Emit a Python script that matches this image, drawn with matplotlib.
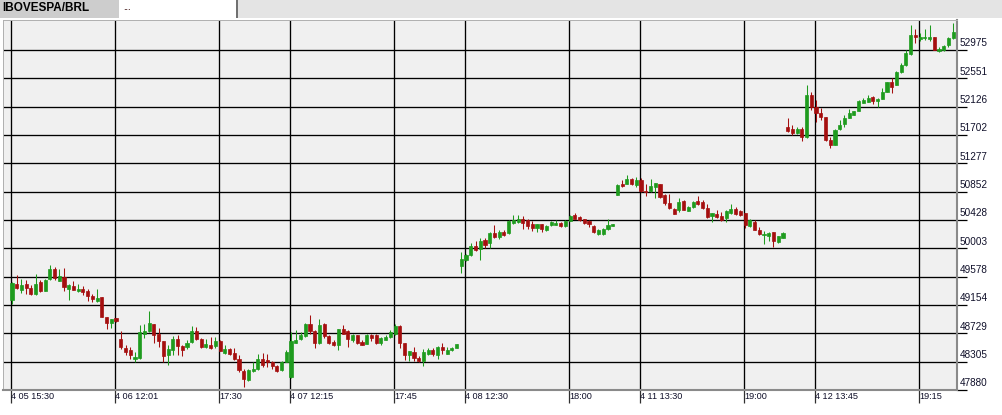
import matplotlib
matplotlib.use("Agg")
import matplotlib.pyplot as plt
import matplotlib.transforms as mtransforms
from matplotlib.patches import Rectangle

plt.rcParams['font.family'] = ['Liberation Sans', 'DejaVu Sans']

# OHLC per bar (bar index = slot on the time axis)
opens = [
    49224, 49464, 49384, 49464, 49408, 49314, 49498, 49364, 49539, 49689,
    49514, 49574, 49389, 49434, 49364, 49399, 49359, 49289, 49214, 49269,
    48974, 48884, 48958, 48650, 48509, 48474, 48339, 48364, 48724, 48759,
    48874, 48724, 48609, 48399, 48484, 48639, 48538, 48524, 48598, 48759,
    48639, 48524, 48560, 48538, 48609, 48440, 48500, 48440, 48339, 48159,
    48024, 48159, 48200, 48349, 48334, 48299, 48238, 48174, 48299, 48074,
    48584, 48639, 48684, 48874, 48759, 48590, 48864, 48684, 48598, 48560,
    48789, 48759, 48624, 48709, 48598, 48574, 48709, 48699, 48584, 48634,
    48674, 48724, 48838, 48584, 48399, 48449, 48364, 48309, 48424, 48484,
    48399, 48524, 48424, 48474, 48509, 49739, 49824, 49899, 50034, 49999,
    50134, 50084, 50234, 50174, 50248, 50234, 50390, 50398, 50439, 50424,
    50374, 50314, 50364, 50284, 50349, 50360, 50390, 50338, 50414, 50499,
    50474, 50439, 50409, 50334, 50224, 50214, 50289, 50344, 50799, 50964,
    50964, 51039, 50949, 51024, 50864, 50859, 50924, 50974, 50799, 50684,
    50600, 50574, 50709, 50564, 50624, 50709, 50698, 50608, 50488, 50524,
    50488, 50464, 50540, 50600, 50564, 50534, 50334, 50398, 50284, 50199,
    50188, 50248, 50098, 50164, 51824, 51794, 51734, 51789, 51674, 52299,
    52124, 52034, 51964, 51634, 51549, 51784, 51864, 51958, 51999, 52064,
    52184, 52198, 52264, 52214, 52239, 52348, 52498, 52449, 52648, 52749,
    52910, 53199, 53139, 53149, 53134, 53174, 52959, 52974, 53049, 53149,
]
highs = [
    49498, 49599, 49539, 49524, 49449, 49614, 49524, 49549, 49749, 49724,
    49699, 49714, 49474, 49509, 49474, 49438, 49399, 49324, 49389, 49274,
    48974, 48949, 48958, 48759, 48560, 48524, 48449, 48860, 48874, 49059,
    48874, 48808, 48609, 48549, 48684, 48699, 48560, 48624, 48834, 48824,
    48664, 48639, 48674, 48674, 48624, 48560, 48509, 48509, 48399, 48200,
    48200, 48299, 48424, 48434, 48424, 48309, 48260, 48314, 48474, 48749,
    48784, 48749, 48884, 48999, 48774, 48950, 48884, 48699, 48634, 48799,
    48849, 48774, 48724, 48709, 48634, 48724, 48724, 48724, 48674, 48699,
    48774, 48874, 48849, 48584, 48464, 48524, 48384, 48500, 48514, 48514,
    48534, 48584, 48524, 48524, 48564, 49949, 49924, 50084, 50109, 50158,
    50158, 50248, 50360, 50284, 50284, 50424, 50499, 50499, 50488, 50439,
    50409, 50374, 50374, 50349, 50414, 50424, 50398, 50424, 50499, 50540,
    50488, 50450, 50424, 50349, 50300, 50308, 50439, 50364, 50964, 51024,
    51099, 51050, 51074, 51050, 50974, 51039, 50984, 50974, 50824, 50824,
    50608, 50750, 50724, 50634, 50709, 50784, 50724, 50664, 50534, 50584,
    50548, 50584, 50674, 50624, 50574, 50534, 50450, 50424, 50324, 50259,
    50248, 50248, 50188, 50248, 51950, 51849, 51824, 51824, 52449, 52350,
    52224, 52100, 51964, 51674, 51784, 51924, 51999, 52084, 52059, 52224,
    52258, 52299, 52284, 52250, 52400, 52498, 52550, 52664, 52774, 52974,
    53349, 53284, 53224, 53289, 53349, 53174, 53024, 53049, 53174, 53374,
]
lows = [
    49174, 49399, 49339, 49314, 49299, 49309, 49348, 49359, 49524, 49524,
    49509, 49359, 49224, 49374, 49348, 49309, 49214, 49198, 49198, 48969,
    48789, 48809, 48898, 48500, 48399, 48339, 48299, 48349, 48659, 48749,
    48590, 48524, 48299, 48260, 48409, 48409, 48388, 48500, 48584, 48624,
    48509, 48509, 48489, 48509, 48459, 48424, 48409, 48324, 48148, 47924,
    48014, 48148, 48174, 48224, 48224, 48189, 48148, 48164, 48299, 48064,
    48584, 48624, 48674, 48724, 48509, 48574, 48664, 48574, 48538, 48474,
    48714, 48524, 48598, 48574, 48549, 48564, 48614, 48574, 48560, 48624,
    48664, 48709, 48514, 48334, 48314, 48314, 48299, 48238, 48399, 48384,
    48349, 48424, 48414, 48464, 48509, 49634, 49814, 49888, 49964, 49834,
    50014, 50008, 50164, 50139, 50184, 50224, 50374, 50390, 50300, 50289,
    50264, 50248, 50248, 50264, 50334, 50349, 50324, 50324, 50414, 50439,
    50414, 50374, 50324, 50240, 50210, 50210, 50284, 50344, 50799, 50924,
    50960, 50949, 50924, 50848, 50788, 50848, 50758, 50764, 50649, 50600,
    50514, 50548, 50574, 50564, 50614, 50649, 50600, 50464, 50398, 50464,
    50414, 50398, 50524, 50510, 50488, 50314, 50324, 50274, 50199, 50074,
    50109, 50024, 50084, 50158, 51748, 51699, 51724, 51614, 51664, 52074,
    51898, 51924, 51614, 51508, 51549, 51774, 51814, 51950, 51999, 52059,
    52174, 52190, 52164, 52124, 52234, 52344, 52334, 52449, 52624, 52738,
    52899, 53084, 53114, 53124, 53109, 52974, 52940, 52964, 53024, 53139,
]
closes = [
    49483, 49414, 49459, 49408, 49324, 49474, 49359, 49534, 49689, 49558,
    49584, 49424, 49449, 49384, 49399, 49348, 49289, 49239, 49258, 48974,
    48884, 48939, 48909, 48524, 48449, 48399, 48374, 48749, 48764, 48884,
    48709, 48614, 48388, 48500, 48639, 48538, 48484, 48590, 48759, 48650,
    48524, 48574, 48509, 48609, 48470, 48489, 48424, 48339, 48174, 48039,
    48174, 48200, 48349, 48260, 48299, 48238, 48159, 48299, 48449, 48609,
    48624, 48699, 48864, 48759, 48590, 48849, 48684, 48590, 48549, 48789,
    48724, 48650, 48709, 48584, 48560, 48709, 48659, 48584, 48659, 48674,
    48749, 48838, 48584, 48399, 48464, 48364, 48309, 48449, 48484, 48414,
    48524, 48484, 48484, 48509, 48564, 49850, 49899, 50034, 49984, 50109,
    50049, 50234, 50174, 50248, 50199, 50414, 50424, 50439, 50390, 50338,
    50314, 50364, 50300, 50338, 50398, 50390, 50338, 50414, 50484, 50450,
    50424, 50384, 50364, 50248, 50274, 50300, 50360, 50364, 50949, 50934,
    51039, 50964, 51024, 50859, 50848, 50938, 50984, 50774, 50684, 50608,
    50524, 50698, 50584, 50624, 50698, 50664, 50614, 50474, 50534, 50474,
    50424, 50564, 50600, 50524, 50499, 50349, 50424, 50284, 50214, 50224,
    50234, 50109, 50184, 50240, 51759, 51734, 51794, 51674, 52299, 52114,
    52024, 51964, 51634, 51549, 51774, 51849, 51958, 52024, 52059, 52209,
    52224, 52258, 52209, 52239, 52348, 52498, 52424, 52648, 52749, 52924,
    53199, 53164, 53164, 53174, 53164, 52974, 52989, 53034, 53149, 53249,
]

time_pos = [0, 22, 44, 59, 81, 96, 118, 133, 155, 170, 192]
time_labels = ["4 05 15:30", "4 06 12:01", "17:30", "4 07 12:15", "17:45",
               "4 08 12:30", "18:00", "4 11 13:30", "19:00", "4 12 13:45", "19:15"]
price_ticks = [52975, 52551, 52126, 51702, 51277, 50852, 50428,
               50003, 49578, 49154, 48729, 48305, 47880]

UP = '#1e9b1e'
DOWN = '#a50f0f'
W, H = 1003, 415

fig = plt.figure(figsize=(W / 100, H / 100), dpi=100)
fig.patch.set_facecolor('white')

# tab strip on top
def px_rect(x0, y0, w, h, color):
    fig.patches.append(Rectangle((x0 / W, 1 - (y0 + h) / H), w / W, h / H,
                                 transform=fig.transFigure, facecolor=color,
                                 edgecolor='none', zorder=0))

px_rect(0, 0, W, 18, '#e4e4e4')
px_rect(0, 0, 119, 18, '#cdcdcd')
px_rect(119, 0, 118, 18, 'white')
px_rect(236, 0, 2.5, 18, '#707070')
fig.text(2 / W, 1 - 8 / H, "IBOVESPA/BRL", fontsize=8.5, fontweight='bold',
         va='center', ha='left', color='black')
fig.text(123 / W, 1 - 8 / H, "...", fontsize=6.5, va='center', ha='left',
         color='#300000')

ax = fig.add_axes([3 / W, 25 / H, 954 / W, 370 / H])
ax.set_facecolor('#f0f0f0')
ax.set_xlim(-1.9, 199.8)
ax.set_ylim(47880, 53425)

# grid
for p in price_ticks:
    ax.axhline(p, color='black', lw=0.95, zorder=1)
for t in time_pos:
    ax.axvline(t - 0.3, color='black', lw=0.95, zorder=1)

# candles
idx = range(len(opens))
colors = [UP if c >= o else DOWN for o, c in zip(opens, closes)]
ax.vlines(list(idx), lows, highs, colors=colors, lw=0.75, zorder=2)
ax.bar(list(idx), [c - o for o, c in zip(opens, closes)], bottom=opens,
       width=0.66, color=colors, edgecolor=colors, lw=0.5, zorder=3)

# axes frame
for side in ['top', 'left']:
    ax.spines[side].set_color('#b0b0b0')
    ax.spines[side].set_linewidth(0.7)
for side in ['right', 'bottom']:
    ax.spines[side].set_color('#8a8a8a')
    ax.spines[side].set_linewidth(1.5)

ax.yaxis.tick_right()
ax.set_yticks(price_ticks)
ax.set_yticklabels([])
ax.tick_params(axis='y', length=7.5, width=0.9, color='black', direction='out')
ax.set_xticks([t - 0.3 for t in time_pos])
ax.set_xticklabels([])
ax.tick_params(axis='x', length=9.5, width=0.9, color='#303030', direction='out')

ytrans = mtransforms.offset_copy(
    mtransforms.blended_transform_factory(ax.transAxes, ax.transData),
    fig=fig, x=2.5, y=3.7, units='dots')
for p in price_ticks:
    ax.text(1.0, p, str(p), transform=ytrans, fontsize=7.2, ha='left',
            va='baseline', color='#10102a', clip_on=False)

xtrans = mtransforms.offset_copy(
    mtransforms.blended_transform_factory(ax.transData, ax.transAxes),
    fig=fig, x=0.5, y=-6.5, units='dots')
for t, lab in zip(time_pos, time_labels):
    ax.text(t - 0.3, 0, lab, transform=xtrans, fontsize=6.6, ha='left',
            va='center', color='#10102a', clip_on=False)

fig.savefig("out.png", dpi=100)
